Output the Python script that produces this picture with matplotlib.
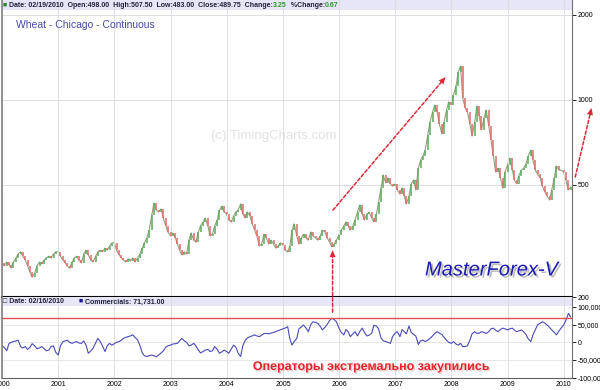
import numpy as np
import pandas as pd
import matplotlib
matplotlib.use("Agg")
import matplotlib.pyplot as plt
import matplotlib.dates as mdates
import matplotlib.patheffects as pe
from matplotlib.patches import Rectangle
from matplotlib.ticker import NullLocator

plt.rcParams["font.family"] = ["Liberation Sans", "DejaVu Sans"]

# --- data (semi-monthly) ----------------------------------------------------
p2000 = [264, 258, 266, 260, 253, 266, 275, 284, 289, 279, 270, 258,
         245, 235, 243, 258, 266, 262, 270, 275, 279, 275, 284, 289]
p2001 = [289, 279, 270, 264, 258, 253, 266, 275, 279, 270, 264, 284,
         293, 282, 270, 266, 279, 289, 293, 289, 298, 293, 303, 311]
p2002 = [311, 293, 282, 275, 270, 266, 273, 268, 275, 266, 275, 284,
         298, 311, 324, 345, 390, 430, 406, 400, 410, 381, 357, 340]
p2003 = [329, 337, 324, 308, 293, 282, 289, 284, 318, 337, 318, 313,
         340, 357, 369, 381, 357, 329, 334, 357, 375, 406, 420, 400]
p2004 = [393, 375, 369, 387, 400, 406, 427, 393, 381, 400, 387, 363,
         345, 329, 303, 308, 334, 324, 308, 318, 308, 298, 303, 311]
p2005 = [306, 293, 289, 303, 345, 363, 329, 308, 324, 334, 324, 318,
         340, 329, 324, 318, 329, 345, 340, 324, 313, 301, 308, 318]
p2006 = [332, 345, 357, 369, 357, 345, 357, 375, 400, 423, 393, 375,
         393, 400, 381, 369, 393, 434, 486, 541, 507, 528, 503, 494]
p2007 = [503, 479, 463, 486, 456, 427, 456, 503, 519, 479, 572, 611,
         631, 663, 749, 833, 904, 957, 904, 820, 756, 833, 919, 981]
p2008 = [957, 1038, 1117, 1252, 1315, 1013, 934, 904, 820, 743, 833, 949,
         875, 781, 861, 919, 806, 720, 631, 554, 572, 528, 486, 554]
p2009 = [587, 621, 563, 519, 503, 536, 563, 572, 592, 631, 663, 611,
         563, 545, 528, 494, 471, 456, 441, 479, 528, 582, 563, 563]
p2010 = [554, 519, 479, 490]

# commercials net position, thousands of contracts
c2000 = [-10, -14, -24, -4, 0, 2, 4, 6, -12, -16, -12, -20,
         -14, -4, -10, -18, -16, -12, -18, -24, -22, -12, -10, -28]
c2001 = [-36, -10, 2, 4, 6, 0, -3, 0, 2, -2, -3, 4,
         -8, -31, -24, -17, -2, 11, 2, -10, -26, -10, -3, -8]
c2002 = [-4, 0, 2, 6, 11, 14, 16, 18, 21, 14, 7, -8,
         -30, -38, -40, -38, -36, -38, -41, -36, -30, -24, -14, -10]
c2003 = [-8, -5, -4, -3, 4, 11, 4, 0, -10, -8, -3, -10,
         -22, -30, -26, -22, -20, -26, -24, -12, -20, -31, -27, -22]
c2004 = [-26, -31, -18, -8, -14, -30, -40, -10, 6, 12, 16, 18,
         21, 18, 16, 20, 25, 25, 24, 26, 28, 30, 33, 35]
c2005 = [38, 40, 44, 10, -8, 2, 11, 38, 44, 49, 40, 30,
         50, 58, 56, 54, 45, 35, 42, 50, 62, 68, 64, 58]
c2006 = [40, 28, 21, 36, 30, 16, 24, 30, 18, 30, 40, 28,
         18, 20, 25, 48, 46, 38, 12, 4, 2, 0, -3, 16]
c2007 = [26, 30, 16, 36, 30, 24, 46, 28, 22, 18, -6, 4,
         6, 2, 6, 11, 18, 25, 30, 26, 22, 14, 6, 0]
c2008 = [-3, 2, -5, -8, -3, -12, -12, -10, 6, 24, 30, 25,
         26, 30, 28, 25, 30, 38, 40, 34, 30, 36, 40, 38]
c2009 = [35, 38, 40, 34, 30, 32, 35, 30, 22, 10, 2, 21,
         36, 49, 54, 58, 54, 49, 42, 35, 28, 21, 32, 40]
c2010 = [49, 62, 82, 71.731]

extreme_level = 68000
price_ticks = [200, 500, 1000, 2000]
cot_ticks = [-100000, -50000, 0, 50000, 100000]
years = list(range(2000, 2011))

close = np.array(p2000 + p2001 + p2002 + p2003 + p2004 + p2005 +
                 p2006 + p2007 + p2008 + p2009 + p2010, dtype=float)
comm = np.array(c2000 + c2001 + c2002 + c2003 + c2004 + c2005 +
                c2006 + c2007 + c2008 + c2009 + c2010) * 1000
dates = pd.date_range("2000-01-01", periods=len(close), freq="SMS")
x = mdates.date2num(dates)

GREEN = "#5aaa5a"
RED = "#e06a6a"
ARROW = "#dd2a3a"

fig = plt.figure(figsize=(6, 3.9), dpi=100)
ax1 = fig.add_axes([2 / 600, 1 - 297 / 390, 570 / 600, 297 / 390])
ax2 = fig.add_axes([2 / 600, 1 - 378 / 390, 570 / 600, 81 / 390])

xmin = mdates.date2num(pd.Timestamp("2000-01-01"))
xmax = mdates.date2num(pd.Timestamp("2010-02-24"))
year_pos = [mdates.date2num(pd.Timestamp(f"{y}-01-01")) for y in years]

# --- price panel -----------------------------------------------------------
prev = np.r_[close[0], close[:-1]]
up = close >= prev
lo = np.minimum(prev, close)
hi = np.maximum(prev, close)
ax1.plot(x, close, color="#98a07a", lw=0.8, zorder=1)
ax1.vlines(x[up], lo[up], hi[up], color=GREEN, lw=1.1, zorder=2)
ax1.vlines(x[~up], lo[~up], hi[~up], color=RED, lw=1.1, zorder=2)

ax1.set_yscale("log")
ax1.set_ylim(200, 2253)
ax1.set_xlim(xmin, xmax)
ax1.yaxis.tick_right()
ax1.set_yticks(price_ticks)
ax1.set_yticklabels([str(t) for t in price_ticks])
ax1.yaxis.set_minor_locator(NullLocator())
ax1.set_xticks(year_pos)
ax1.tick_params(axis="x", length=0, labelbottom=False)
ax1.tick_params(axis="y", labelsize=5, length=3, pad=1, width=0.6)
ax1.grid(axis="x", color="#dedede", lw=0.7)
for lvl in price_ticks[1:]:
    ax1.axhline(lvl, color="#dedede", lw=0.7, zorder=0)

ax1.add_patch(Rectangle((0, 0.966), 1, 0.034, transform=ax1.transAxes,
                        color="#e6e6f8", lw=0, zorder=0))

ax1.spines["top"].set_visible(False)
ax1.spines["left"].set_color("#808080")
ax1.spines["left"].set_linewidth(1.2)
ax1.spines["right"].set_color("#707070")
ax1.spines["bottom"].set_color("black")
ax1.spines["bottom"].set_linewidth(1.5)

# --- commercials panel -----------------------------------------------------
ax2.plot(x, comm, color="#4a4ab8", lw=0.8)
ax2.axhline(extreme_level, color="#e05050", lw=1.0)
ax2.set_xlim(xmin, xmax)
ax2.set_ylim(-100850, 127970)
ax2.yaxis.tick_right()
ax2.set_yticks(cot_ticks)
ax2.set_yticklabels([f"{t:,}" for t in cot_ticks])
ax2.set_xticks(year_pos)
ax2.set_xticklabels([str(y) for y in years])
ax2.tick_params(axis="x", labelsize=5, length=0, pad=2)
ax2.tick_params(axis="y", labelsize=5, length=3, pad=1, width=0.6)
ax2.grid(axis="x", color="#dedede", lw=0.7)
for lvl in cot_ticks[:-1]:
    ax2.axhline(lvl, color="#e8e8e8", lw=0.7, zorder=0)
ax2.add_patch(Rectangle((0, 0.885), 1, 0.115, transform=ax2.transAxes,
                        color="#e6e6f8", lw=0, zorder=0))
ax2.spines["top"].set_visible(False)
ax2.spines["left"].set_color("#808080")
ax2.spines["left"].set_linewidth(1.2)
ax2.spines["right"].set_color("#707070")
ax2.spines["bottom"].set_color("#606060")

# --- texts -----------------------------------------------------------------
renderer = fig.canvas.get_renderer()


def chain(ax, x0, y0, parts, **kw):
    for s, c in parts:
        t = ax.text(x0, y0, s, color=c, transform=ax.transAxes,
                    va="center", ha="left", **kw)
        bb = t.get_window_extent(renderer)
        x0 = ax.transAxes.inverted().transform((bb.x1, bb.y0))[0]


DARK = "#20203a"
chain(ax1, 0.002, 0.983,
      [("■ ", "#2a8a2a"),
       ("Date: 02/19/2010  Open:498.00  High:507.50  Low:483.00  "
        "Close:489.75  Change:", DARK),
       ("3.25", "#2a9a2a"), ("  %Change:", DARK), ("0.67", "#2a9a2a")],
      fontsize=5.0, fontweight="bold")

chain(ax2, 0.002, 0.94, [("□ Date: 02/16/2010", DARK)],
      fontsize=5.0, fontweight="bold")
chain(ax2, 0.135, 0.94, [("■ ", "#1a1a8c"), ("Commercials: 71,731.00", DARK)],
      fontsize=5.0, fontweight="bold")

ax1.text(0.0246, 0.916, "Wheat - Chicago - Continuous", transform=ax1.transAxes,
         fontsize=7.5, color="#4848a8", va="center", ha="left")
ax1.text(0.477, 0.542, "(c) TimingCharts.com", transform=ax1.transAxes,
         fontsize=9.5, color="#e2e2e2", va="center", ha="center", zorder=0)
ax1.text(0.742, 0.091, "MasterForex-V", transform=ax1.transAxes,
         fontsize=14.5, style="italic", color="#1a1ab4", va="center", ha="left",
         path_effects=[pe.withSimplePatchShadow(offset=(1.5, -1.5),
                                                shadow_rgbFace="#909090",
                                                alpha=0.6)])
ax2.text(0.44, 0.136, "Операторы экстремально закупились", transform=ax2.transAxes,
         fontsize=9, fontweight="bold", color="#e8222a", va="center", ha="left",
         path_effects=[pe.withSimplePatchShadow(offset=(1, -1),
                                                shadow_rgbFace="#d0a0a0",
                                                alpha=0.5)])


# --- arrows ----------------------------------------------------------------
def dashed_arrow(ax, tail, head, xycoords="data", textcoords="data"):
    ax.annotate("", xy=head, xytext=tail, xycoords=xycoords,
                textcoords=textcoords, annotation_clip=False,
                arrowprops=dict(arrowstyle="-", color=ARROW, lw=1.1,
                                linestyle=(0, (2.2, 1.4)), shrinkA=0, shrinkB=2))
    ax.annotate("", xy=head, xytext=tail, xycoords=xycoords,
                textcoords=textcoords, annotation_clip=False,
                arrowprops=dict(arrowstyle="-|>,head_length=0.5,head_width=0.22",
                                color=ARROW, lw=0.01, shrinkA=0, shrinkB=0))


d = lambda s: mdates.date2num(pd.Timestamp(s))
dashed_arrow(ax1, (d("2005-11-22"), 406), (d("2007-11-25"), 1202))
# drawn from the lower panel so that it sits above both axes
dashed_arrow(ax2, (d("2005-11-20"), 85000), (d("2005-11-20"), 293),
             xycoords=ax1.transData, textcoords="data")
dashed_arrow(ax1, (d("2010-03-17"), 532), (d("2010-07-01"), 934))

fig.savefig("out.png", dpi=100)
